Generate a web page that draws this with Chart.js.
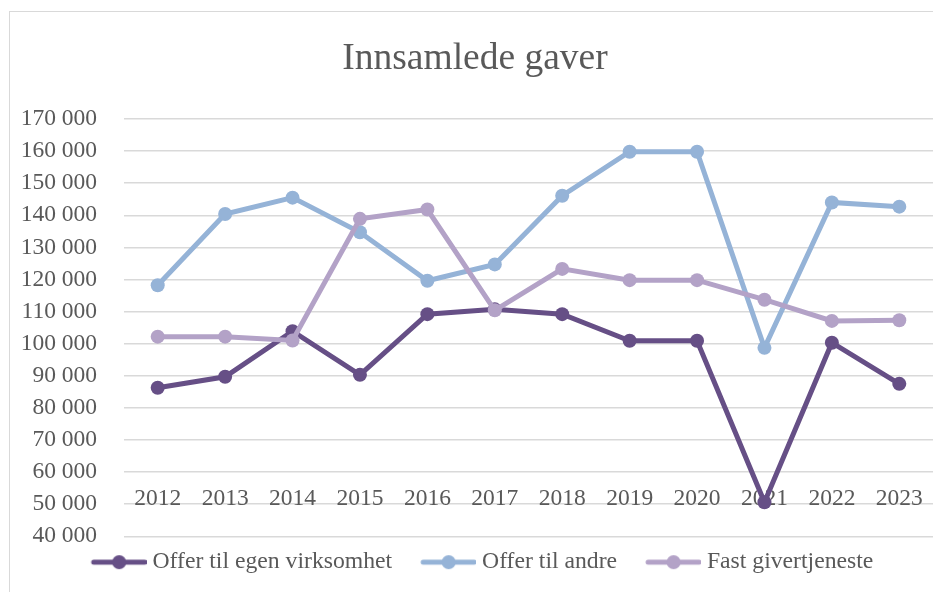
<!DOCTYPE html>
<html>
<head>
<meta charset="utf-8">
<script src="https://cdn.jsdelivr.net/npm/chart.js@4"></script>
<style>
  html, body { margin: 0; padding: 0; background: #fff; overflow: hidden; }
  #ramme { position: absolute; left: 9px; top: 11px; width: 1000px; height: 1000px; border: 1.5px solid #d9d9d9; }
  #chartGaver { position: absolute; left: 0; top: 0; }
</style>
</head>
<body>
<div id="ramme"></div>
<canvas id="chartGaver" width="933" height="592"></canvas>
<script>
// data
const years = ['2012', '2013', '2014', '2015', '2016', '2017', '2018', '2019', '2020', '2021', '2022', '2023'];
const offerEgen = [86300, 89700, 103900, 90300, 109200, 110700, 109200, 100900, 100900, 50600, 100300, 87500];
const offerAndre = [118200, 140400, 145500, 134700, 119600, 124700, 146100, 159800, 159800, 98700, 144000, 142700];
const fastGiver = [102200, 102200, 101000, 138900, 141800, 110400, 123300, 119800, 119800, 113700, 107100, 107300];
const seriesNames = ['Offer til egen virksomhet', 'Offer til andre', 'Fast givertjeneste'];
const seriesColors = ['#664f86', '#95b3d7', '#b3a2c7'];

const fontFam = "'Liberation Serif', 'Times New Roman', serif";
const textColor = '#595959';

// little line+dot for the legend, like excel
function legendIcon(color) {
    const c = document.createElement('canvas');
    c.width = 76;
    c.height = 24;
    const g = c.getContext('2d');
    g.strokeStyle = color;
    g.lineWidth = 5;
    g.lineCap = 'round';
    g.beginPath();
    g.moveTo(23, 12);
    g.lineTo(74, 12);
    g.stroke();
    g.fillStyle = color;
    g.beginPath();
    g.arc(48.5, 12, 7, 0, Math.PI * 2);
    g.fill();
    return c;
}

function serie(i, values, order) {
    return {
        label: seriesNames[i],
        data: values,
        borderColor: seriesColors[i],
        backgroundColor: seriesColors[i],
        borderWidth: 5,
        pointRadius: 7,
        pointHoverRadius: 7,
        pointBorderWidth: 0,
        tension: 0,
        order: order
    };
}

const chartGaver = document.getElementById('chartGaver');

new Chart(chartGaver, {
    type: 'line',
    data: {
        labels: years,
        datasets: [
            serie(0, offerEgen, 3),
            serie(1, offerAndre, 2),
            serie(2, fastGiver, 1)
        ]
    },
    options: {
        responsive: false,
        animation: false,
        devicePixelRatio: 1,
        layout: {
            autoPadding: false,
            padding: { left: 17, right: 0, top: 10, bottom: 8 }
        },
        plugins: {
            title: {
                display: true,
                text: 'Innsamlede gaver',
                color: textColor,
                font: { family: fontFam, size: 37.5, weight: 'normal' },
                padding: { top: 27, bottom: 37 }
            },
            legend: {
                position: 'bottom',
                labels: {
                    usePointStyle: true,
                    pointStyleWidth: 64,
                    padding: 14,
                    color: textColor,
                    font: { family: fontFam, size: 23.7 },
                    generateLabels: function (chart) {
                        return chart.data.datasets.map(function (ds, i) {
                            return {
                                text: ds.label,
                                fontColor: textColor,
                                pointStyle: legendIcon(ds.borderColor),
                                lineWidth: 0,
                                hidden: false,
                                datasetIndex: i
                            };
                        });
                    }
                }
            },
            tooltip: { enabled: false }
        },
        scales: {
            x: {
                position: { y: 55000 },
                offset: true,
                grid: { display: false, drawTicks: false },
                border: { display: false },
                afterFit: function (scale) {
                    // no extra side padding, the plot runs to the edge
                    scale.paddingLeft = 0;
                    scale.paddingRight = 0;
                },
                ticks: {
                    color: textColor,
                    padding: -3,
                    maxRotation: 0,
                    font: { family: fontFam, size: 23.5 }
                }
            },
            y: {
                min: 40000,
                max: 170000,
                grid: { color: '#d9d9d9', lineWidth: 1.5, drawTicks: false },
                border: { display: false },
                afterFit: function (scale) {
                    scale.width = 107;
                },
                ticks: {
                    stepSize: 10000,
                    padding: 27,
                    color: textColor,
                    font: { family: fontFam, size: 23.5 },
                    callback: function (v) {
                        return String(v).replace(/\B(?=(\d{3})+(?!\d))/g, ' ');
                    }
                }
            }
        }
    }
});
</script>
</body>
</html>
